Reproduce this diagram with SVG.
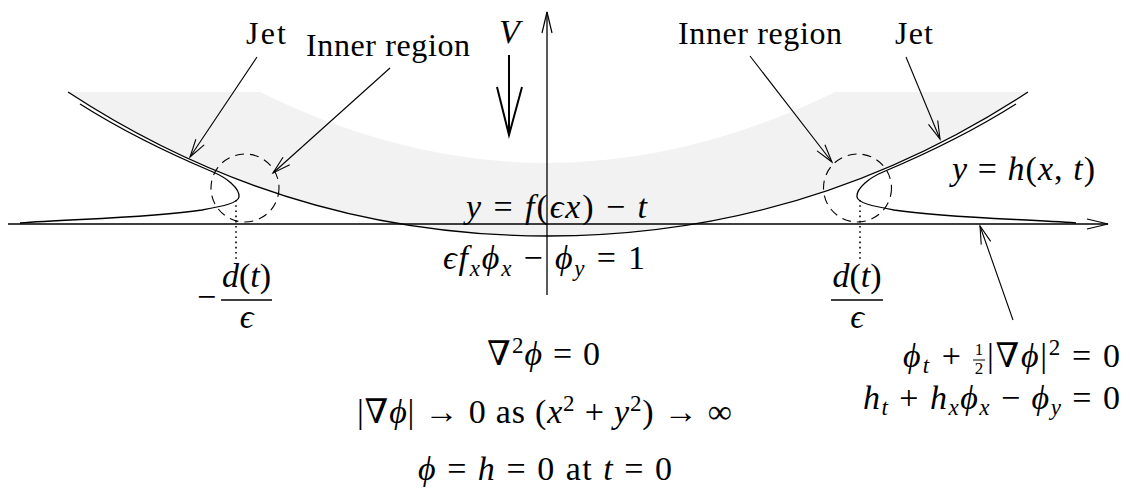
<svg xmlns="http://www.w3.org/2000/svg" width="1130" height="492" viewBox="0 0 1130 492">
<style>
  .ln{fill:none;stroke:#000;stroke-width:1.3}
  .thin{fill:none;stroke:#000;stroke-width:1.1}
  .dash{fill:none;stroke:#000;stroke-width:1.1;stroke-dasharray:9 6}
  .dot{fill:none;stroke:#000;stroke-width:1.6;stroke-dasharray:1.6 3.6}
  text, tspan{font-family:'Liberation Serif','DejaVu Serif',serif}
  .tx{font-size:32px;fill:#000}
  .m{font-size:34px;fill:#000}
  .it{font-style:italic}
  .s{font-size:23px}
  .f{font-size:17px}
</style>
<defs>
  <marker id="ah" viewBox="-20 -7 22 14" refX="0" refY="0" markerWidth="22" markerHeight="14" orient="auto" markerUnits="userSpaceOnUse">
    <path d="M-18,-5 L0,0 L-18,5" fill="none" stroke="#000" stroke-width="1.1"/>
  </marker>
  <marker id="ax" viewBox="-23 -7 25 14" refX="0" refY="0" markerWidth="25" markerHeight="14" orient="auto" markerUnits="userSpaceOnUse">
    <path d="M-21,-5 L0,0 L-21,5" fill="none" stroke="#000" stroke-width="1.2"/>
  </marker>
</defs>

<g id="shade">
  <path d="M68,92 L260,92 Q403.5,163 547,163 Q690.5,163 835,92 L1028,92 Q808,236 548,236 Q288,236 68,92 Z" fill="#f2f2f2"/>
</g>

<g id="axes">
  <line class="ln" x1="8" y1="224" x2="1108" y2="224" marker-end="url(#ax)"/>
  <line class="ln" x1="547" y1="295" x2="547" y2="12" marker-end="url(#ax)"/>
</g>

<g id="body">
  <path class="ln" d="M68,92 Q288,236 548,236 Q808,236 1028,92"/>
</g>

<g id="jet-left">
  <path class="ln" d="M80,104 Q137,140 213,172 C226,177.5 240,188 239,197 C238,203 224,206 202,210 C150,218 70,219 20,223"/>
</g>
<g id="jet-right" transform="translate(1096,0) scale(-1,1)">
  <path class="ln" d="M80,104 Q137,140 213,172 C226,177.5 240,188 239,197 C238,203 224,206 202,210 C150,218 70,219 20,223"/>
</g>

<g id="inner-left">
  <circle class="dash" cx="245" cy="188" r="34"/>
  <line class="dot" x1="236" y1="200" x2="236" y2="262"/>
</g>
<g id="inner-right">
  <circle class="dash" cx="857.5" cy="188" r="34"/>
  <line class="dot" x1="860" y1="200" x2="860" y2="260"/>
</g>

<g id="connectors">
  <line class="thin" x1="257" y1="57" x2="190" y2="157" marker-end="url(#ah)"/>
  <line class="thin" x1="390" y1="68" x2="273" y2="173" marker-end="url(#ah)"/>
  <line class="thin" x1="750" y1="56" x2="832" y2="162" marker-end="url(#ah)"/>
  <line class="thin" x1="906" y1="57" x2="940" y2="139" marker-end="url(#ah)"/>
  <line class="thin" x1="1013" y1="320" x2="980" y2="226" marker-end="url(#ah)"/>
  <g id="velocity">
    <line x1="509" y1="55" x2="509" y2="133" stroke="#000" stroke-width="2"/>
    <path d="M497,87 L509,135 L522,87" fill="none" stroke="#000" stroke-width="2"/>
  </g>
</g>

<g id="labels">
  <text class="tx" x="246" y="44" textLength="40">Jet</text>
  <text class="tx" x="306" y="56" textLength="164">Inner region</text>
  <text class="m it" x="499" y="43">V</text>
  <text class="tx" x="678" y="44" textLength="164">Inner region</text>
  <text class="tx" x="895" y="44" textLength="38">Jet</text>
</g>
<g id="formulas">
  <text class="m" x="952" y="180" textLength="143"><tspan class="it">y</tspan> = <tspan class="it">h</tspan>(<tspan class="it">x</tspan>, <tspan class="it">t</tspan>)</text>

  <text class="m" x="466" y="218" textLength="181"><tspan class="it">y</tspan> = <tspan class="it">f</tspan>(<tspan class="it">ϵx</tspan>) − <tspan class="it">t</tspan></text>
  <text class="m" x="443" y="269" textLength="202"><tspan class="it">ϵf</tspan><tspan class="it s" dy="7">x</tspan><tspan class="it" dy="-7">ϕ</tspan><tspan class="it s" dy="7">x</tspan><tspan dy="-7"> − </tspan><tspan class="it">ϕ</tspan><tspan class="it s" dy="7">y</tspan><tspan dy="-7"> = 1</tspan></text>

  <text class="m" x="197" y="308">−</text>
  <text class="m" x="246.5" y="287" text-anchor="middle"><tspan class="it">d</tspan>(<tspan class="it">t</tspan>)</text>
  <line x1="221" y1="300" x2="272" y2="300" stroke="#000" stroke-width="1.4"/>
  <text class="m it" x="246.5" y="328" text-anchor="middle">ϵ</text>

  <text class="m" x="857" y="287" text-anchor="middle"><tspan class="it">d</tspan>(<tspan class="it">t</tspan>)</text>
  <line x1="831" y1="300" x2="883" y2="300" stroke="#000" stroke-width="1.4"/>
  <text class="m it" x="857" y="328" text-anchor="middle">ϵ</text>

  <text class="m" x="487" y="365" textLength="113">∇<tspan class="s" dy="-12">2</tspan><tspan class="it" dy="12">ϕ</tspan> = 0</text>
  <text class="m" x="357" y="423" textLength="375">|∇<tspan class="it">ϕ</tspan>| → 0 as (<tspan class="it">x</tspan><tspan class="s" dy="-12">2</tspan><tspan dy="12"> + </tspan><tspan class="it">y</tspan><tspan class="s" dy="-12">2</tspan><tspan dy="12">) → ∞</tspan></text>
  <text class="m" x="418" y="480" textLength="254"><tspan class="it">ϕ</tspan> = <tspan class="it">h</tspan> = 0 at <tspan class="it">t</tspan> = 0</text>

  <text class="m" x="903" y="367" textLength="58"><tspan class="it">ϕ</tspan><tspan class="it s" dy="6">t</tspan><tspan dy="-6"> +</tspan></text>
  <text class="tx f" x="979" y="355" text-anchor="middle">1</text>
  <line x1="973" y1="360" x2="985" y2="360" stroke="#000" stroke-width="1"/>
  <text class="tx f" x="979" y="374" text-anchor="middle">2</text>
  <text class="m" x="987" y="367" textLength="133">|∇<tspan class="it">ϕ</tspan>|<tspan class="s" dy="-12">2</tspan><tspan dy="12"> = 0</tspan></text>
  <text class="m" x="863" y="409" textLength="257"><tspan class="it">h</tspan><tspan class="it s" dy="6">t</tspan><tspan dy="-6"> + </tspan><tspan class="it">h</tspan><tspan class="it s" dy="6">x</tspan><tspan class="it" dy="-6">ϕ</tspan><tspan class="it s" dy="6">x</tspan><tspan dy="-6"> − </tspan><tspan class="it">ϕ</tspan><tspan class="it s" dy="6">y</tspan><tspan dy="-6"> = 0</tspan></text>
</g>
</svg>
